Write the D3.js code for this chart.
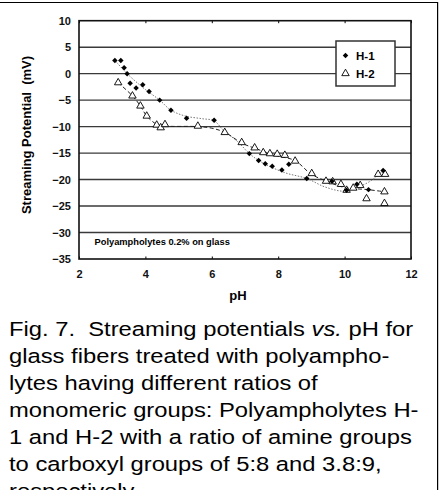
<!DOCTYPE html>
<html>
<head>
<meta charset="utf-8">
<script src="https://cdn.jsdelivr.net/npm/d3@7"></script>
<style>
body { margin: 0; background: #fff; }
text { font-family: "Liberation Sans", Arial, sans-serif; }
</style>
</head>
<body>
<div id="chart"></div>
<script>
// data
var h1Ph = [3.08, 3.26, 3.36, 3.45, 3.54, 3.72, 3.92, 4.11, 4.43, 4.77, 5.24, 6.07, 7.13, 7.41, 7.61, 7.82, 8.11, 8.32, 8.86, 9.62, 10.06, 10.37, 10.72, 11.16];
var h1Mv = [2.5, 2.5, 1.1, 0.0, -1.8, -2.7, -2.1, -3.35, -5.0, -6.9, -8.4, -8.8, -15.1, -16.4, -17.0, -17.5, -18.2, -17.1, -19.8, -20.3, -22.0, -20.9, -21.9, -18.3];

var h2Ph = [3.18, 3.61, 3.85, 4.04, 4.34, 4.46, 4.59, 5.58, 6.39, 6.90, 7.29, 7.55, 7.75, 7.97, 8.20, 8.51, 9.01, 9.44, 9.64, 9.89, 10.06, 10.26, 10.47, 10.66, 11.01, 11.22, 11.20, 11.20];
var h2Mv = [-1.7, -4.2, -6.1, -8.0, -9.7, -10.2, -9.6, -9.9, -11.1, -13.0, -14.0, -14.9, -15.1, -15.2, -15.4, -16.5, -18.85, -20.3, -20.4, -20.9, -22.0, -21.6, -21.1, -23.6, -19.0, -19.0, -22.3, -24.5];

// trend lines (dotted for H-1, dashed for H-2)
var h1TrendPh = [3.08, 3.5, 4.0, 4.43, 4.77, 5.2, 5.7, 6.07, 6.35, 6.79, 7.15, 7.55, 8.2, 8.86, 9.41, 10.0, 10.41, 10.8, 11.12];
var h1TrendMv = [2.5, -0.3, -3.0, -5.0, -6.9, -8.0, -8.5, -8.9, -10.7, -12.9, -15.2, -16.9, -18.7, -19.8, -21.4, -22.2, -21.4, -20.2, -18.5];
var h2TrendPh = [3.18, 3.61, 3.85, 4.04, 4.35, 4.6, 5.6, 6.0, 6.4, 6.9, 7.3, 7.95, 8.5, 9.0, 9.5, 10.0, 10.7, 11.2];
var h2TrendMv = [-1.7, -4.2, -6.1, -8.0, -9.6, -9.9, -10.0, -10.3, -11.1, -13.1, -14.1, -15.5, -16.4, -19.0, -20.4, -21.5, -21.9, -22.3];

var xTicks = [2, 4, 6, 8, 10, 12];
var yTicks = [10, 5, 0, -5, -10, -15, -20, -25, -30, -35];
var seriesNames = ["H-1", "H-2"];

var captionLines = [
  ["Fig. 7.  Streaming potentials ", "vs.", " pH for"],
  ["glass fibers treated with polyampho-"],
  ["lytes having different ratios of"],
  ["monomeric groups: Polyampholytes H-"],
  ["1 and H-2 with a ratio of amine groups"],
  ["to carboxyl groups of 5:8 and 3.8:9,"],
  ["respectively."]
];

var width = 440,
    height = 490,
    plotLeft = 79,
    plotTop = 20.7,
    plotW = 332,
    plotH = 238.3;

var svg = d3.select("#chart").append("svg")
  .attr("width", width)
  .attr("height", height);

svg.append("rect").attr("width", width).attr("height", height).attr("fill", "#fff");

// frame lines
svg.append("line").attr("x1", 0).attr("x2", 438).attr("y1", 2.5).attr("y2", 2.5)
  .attr("stroke", "#000").attr("stroke-width", 1.2);
svg.append("line").attr("x1", 437.6).attr("x2", 437.6).attr("y1", 2).attr("y2", height)
  .attr("stroke", "#000").attr("stroke-width", 1.2);

var xScale = d3.scaleLinear().domain([2, 12]).range([plotLeft, plotLeft + plotW]);
var yScale = d3.scaleLinear().domain([-35, 10]).range([plotTop + plotH, plotTop]);

var g = svg.append("g");

// gridlines
g.selectAll(".grid")
  .data(yTicks.slice(1, -1))
  .enter().append("line")
  .attr("x1", plotLeft).attr("x2", plotLeft + plotW)
  .attr("y1", function(d) { return yScale(d); })
  .attr("y2", function(d) { return yScale(d); })
  .attr("stroke", "#3a3a3a")
  .attr("stroke-width", 1.4);

// small inner ticks on bottom and top
g.append("g")
  .attr("transform", "translate(0," + (plotTop + plotH) + ")")
  .call(d3.axisBottom(xScale).tickValues(xTicks).tickSize(-2.5).tickFormat(""))
  .call(function(a) { a.select(".domain").remove(); });
g.append("g")
  .attr("transform", "translate(0," + plotTop + ")")
  .call(d3.axisTop(xScale).tickValues(xTicks).tickSize(-2.5).tickFormat(""))
  .call(function(a) { a.select(".domain").remove(); });

// plot border
g.append("rect")
  .attr("x", plotLeft).attr("y", plotTop)
  .attr("width", plotW).attr("height", plotH)
  .attr("fill", "none")
  .attr("stroke", "#111")
  .attr("stroke-width", 1.6);

// axis labels
var xAxis = g.append("g")
  .attr("transform", "translate(0," + (plotTop + plotH) + ")")
  .call(d3.axisBottom(xScale).tickValues(xTicks).tickSize(0).tickPadding(11.5));
var yAxis = g.append("g")
  .attr("transform", "translate(" + plotLeft + ",0)")
  .call(d3.axisLeft(yScale).tickValues(yTicks).tickSize(0).tickPadding(8));
[xAxis, yAxis].forEach(function(a) {
  a.select(".domain").remove();
  a.selectAll("text")
    .attr("font-family", "'Liberation Sans', Arial, sans-serif")
    .attr("font-size", 11)
    .attr("font-weight", "bold")
    .attr("fill", "#111");
});

svg.append("text")
  .attr("x", 238).attr("y", 300)
  .attr("text-anchor", "middle")
  .attr("font-size", 13).attr("font-weight", "bold")
  .text("pH");

svg.append("text")
  .attr("transform", "translate(31,135) rotate(-90)")
  .attr("text-anchor", "middle")
  .attr("font-size", 13).attr("font-weight", "bold")
  .style("white-space", "pre")
  .text("Streaming Potential  (mV)");

svg.append("text")
  .attr("x", 94.5).attr("y", 245)
  .attr("font-size", 9.3).attr("font-weight", "bold")
  .text("Polyampholytes 0.2% on glass");

// trend lines
var line = d3.line()
  .x(function(d) { return xScale(d[0]); })
  .y(function(d) { return yScale(d[1]); })
  .curve(d3.curveCatmullRom.alpha(0.5));

g.append("path")
  .attr("d", line(d3.zip(h1TrendPh, h1TrendMv)))
  .attr("fill", "none")
  .attr("stroke", "#777")
  .attr("stroke-width", 1)
  .attr("stroke-dasharray", "1.5,1.5");

g.append("path")
  .attr("d", line(d3.zip(h2TrendPh, h2TrendMv)))
  .attr("fill", "none")
  .attr("stroke", "#222")
  .attr("stroke-width", 1)
  .attr("stroke-dasharray", "4,2.5");

var diamond = d3.symbol().type(d3.symbolSquare).size(15);
var triangle = d3.symbol().type(d3.symbolTriangle).size(24);

g.selectAll(".h2")
  .data(d3.zip(h2Ph, h2Mv))
  .enter().append("path")
  .attr("d", triangle)
  .attr("transform", function(d) { return "translate(" + xScale(d[0]) + "," + yScale(d[1]) + ")"; })
  .attr("fill", "#fff")
  .attr("stroke", "#000")
  .attr("stroke-width", 0.9);

g.selectAll(".h1")
  .data(d3.zip(h1Ph, h1Mv))
  .enter().append("path")
  .attr("d", diamond)
  .attr("transform", function(d) { return "translate(" + xScale(d[0]) + "," + yScale(d[1]) + ") rotate(45)"; })
  .attr("fill", "#000");

// legend
var legend = svg.append("g");
legend.append("rect")
  .attr("x", 336).attr("y", 41)
  .attr("width", 59).attr("height", 45)
  .attr("fill", "#fff")
  .attr("stroke", "#333")
  .attr("stroke-width", 1.5);

legend.append("path")
  .attr("d", diamond)
  .attr("transform", "translate(345.5,55.5) rotate(45)")
  .attr("fill", "#000");
legend.append("path")
  .attr("d", triangle)
  .attr("transform", "translate(345.5,73.5)")
  .attr("fill", "#fff")
  .attr("stroke", "#000")
  .attr("stroke-width", 0.9);

legend.selectAll(".lt")
  .data(seriesNames)
  .enter().append("text")
  .attr("x", 356)
  .attr("y", function(d, i) { return 60 + i * 18; })
  .attr("font-size", 11.5).attr("font-weight", "bold")
  .text(function(d) { return d; });

// caption, slightly wider than the font's natural width
var caption = svg.append("g")
  .attr("transform", "translate(9,0) scale(1.16,1)");
captionLines.forEach(function(parts, i) {
  var t = caption.append("text")
    .attr("x", 0)
    .attr("y", 336 + i * 27)
    .attr("font-size", 20.5)
    .attr("fill", "#000")
    .style("white-space", "pre");
  parts.forEach(function(p) {
    t.append("tspan")
      .attr("font-style", p === "vs." ? "italic" : null)
      .text(p);
  });
});
</script>
</body>
</html>
